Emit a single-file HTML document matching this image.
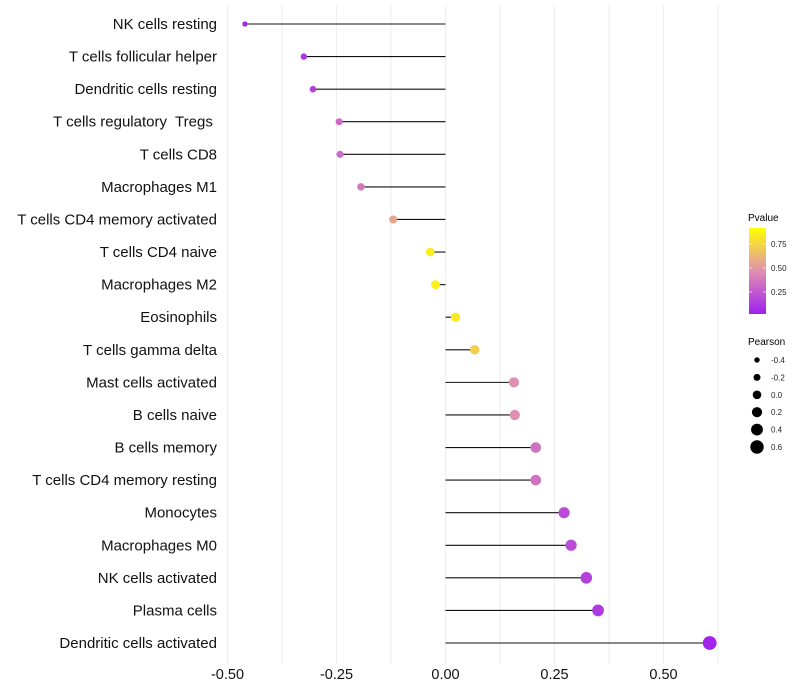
<!DOCTYPE html>
<html><head><meta charset="utf-8"><style>
body{margin:0;background:#fff}
svg{display:block;font-family:"Liberation Sans",sans-serif}
text{white-space:pre}
</style></head><body>
<svg id="chart" width="800" height="700">
<defs>
<linearGradient id="pg" x1="0" y1="1" x2="0" y2="0">
<stop offset="0" stop-color="#a020f0"/>
<stop offset="0.5" stop-color="#e090b0"/>
<stop offset="1" stop-color="#ffff00"/>
</linearGradient>
</defs>
<g id="grid"></g>
<g id="marks"></g>
<g id="ylabels"></g>
<g id="xlabels"></g>
<g>
<text x="748" y="221" font-size="10">Pvalue</text>
<rect x="749" y="228" width="17" height="86" fill="url(#pg)"/>
<g id="cbticks"></g>
</g>
<g id="sizelegend">
<text x="748" y="345" font-size="10">Pearson</text>
</g>
</svg>
<script>
const categories=["NK cells resting","T cells follicular helper","Dendritic cells resting","T cells regulatory  Tregs ","T cells CD8","Macrophages M1","T cells CD4 memory activated","T cells CD4 naive","Macrophages M2","Eosinophils","T cells gamma delta","Mast cells activated","B cells naive","B cells memory","T cells CD4 memory resting","Monocytes","Macrophages M0","NK cells activated","Plasma cells","Dendritic cells activated"];
const pearson=[-0.46,-0.325,-0.304,-0.244,-0.242,-0.194,-0.12,-0.035,-0.023,0.023,0.067,0.157,0.159,0.207,0.207,0.272,0.288,0.323,0.35,0.606];
const pvalue=[0.04,0.1,0.15,0.33,0.33,0.4,0.6,0.92,0.93,0.9,0.78,0.5,0.5,0.37,0.37,0.2,0.2,0.15,0.12,0.02];
const xTicks=[-0.5,-0.25,0,0.25,0.5];
const xTickLabels=["-0.50","-0.25","0.00","0.25","0.50"];
const cbTicks=[0.25,0.5,0.75];
const sizeLegend=[-0.4,-0.2,0.0,0.2,0.4,0.6];

const NS="http://www.w3.org/2000/svg";
const x=v=>445.5+v*436;
const y=i=>24+i*(643-24)/19;
const r=v=>4.5+4*v;
function lerp(a,b,t){return a.map((c,k)=>Math.round(c+(b[k]-c)*t));}
function col(p){const lo=[160,32,240],mid=[224,144,176],hi=[255,255,0];
 const c=p<0.5?lerp(lo,mid,p/0.5):lerp(mid,hi,(p-0.5)/0.5);return `rgb(${c})`;}
function mk(tag,attrs,parent){const e=document.createElementNS(NS,tag);for(const k in attrs)e.setAttribute(k,attrs[k]);parent.appendChild(e);return e;}
const grid=document.getElementById('grid'),marks=document.getElementById('marks'),yl=document.getElementById('ylabels'),xl=document.getElementById('xlabels');
for(let v=-0.5;v<=0.626;v+=0.125){
 const g=mk('line',{x1:x(v),x2:x(v),y1:5,y2:664,stroke:'#eeeeee','stroke-width':1},grid);
 
 
}
xTicks.forEach((v,i)=>{
 const t=mk('text',{x:x(v),y:679,'font-size':14.5,'text-anchor':'middle',fill:'#111'},xl);t.textContent=xTickLabels[i];
 
 
});
categories.forEach((c,i)=>{
 const t=mk('text',{x:217,y:y(i)+5,'font-size':15,'text-anchor':'end',fill:'#111'},yl);t.textContent=c;
 
 
 const l=mk('line',{x1:x(0),x2:x(pearson[i]),y1:y(i),y2:y(i),stroke:'#111','stroke-width':1.1},marks);
 
 
 const p=mk('circle',{cx:x(pearson[i]),cy:y(i),r:r(pearson[i]),fill:col(pvalue[i])},marks);
 
 
});
const cb=document.getElementById('cbticks');
cbTicks.forEach(v=>{
 const yy=316-v*96;
 const t=mk('text',{x:771,y:yy+3,'font-size':8,fill:'#222'},cb);t.textContent=v.toFixed(2);
 
 
 mk('line',{x1:749,x2:752,y1:yy,y2:yy,stroke:'#fff','stroke-width':0.6},cb);
 mk('line',{x1:763,x2:766,y1:yy,y2:yy,stroke:'#fff','stroke-width':0.6},cb);
});
const sl=document.getElementById('sizelegend');
sizeLegend.forEach((v,i)=>{
 const yy=360+i*17.4;
 const c=mk('circle',{cx:757,cy:yy,r:r(v)-0.2,fill:'#000'},sl);
 
 
 const t=mk('text',{x:771,y:yy+3,'font-size':8,fill:'#222'},sl);t.textContent=v.toFixed(1);
 
 
});
</script>
</body></html>
